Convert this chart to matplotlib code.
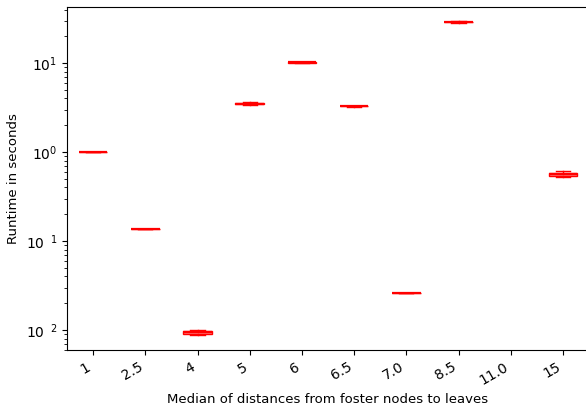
import matplotlib
matplotlib.use("Agg")
import matplotlib.pyplot as plt
from matplotlib.ticker import FuncFormatter, LogLocator
import numpy as np

categories = ["1", "2.5", "4", "5", "6", "6.5", "7.0", "8.5", "11.0", "15"]
runtimes = [
    [1.00, 1.01, 1.02, 1.01],
    [0.134, 0.136, 0.137, 0.136],
    [0.0088, 0.0092, 0.0097, 0.0099],
    [3.35, 3.45, 3.55, 3.62],
    [10.0, 10.15, 10.3, 10.2],
    [3.22, 3.28, 3.32, 3.30],
    [0.0258, 0.0260, 0.0262, 0.0261],
    [28.5, 29.0, 29.5, 29.2],
    [],
    [0.53, 0.55, 0.58, 0.61],
]

fig = plt.figure(figsize=(5.86, 4.08), dpi=100)
ax = fig.add_axes([67/586, 1-350/408, (589-67)/586, (350-7)/408])

positions = np.arange(1, len(categories) + 1)
bp = ax.boxplot(runtimes, positions=positions, widths=0.55, patch_artist=True,
                showfliers=False)
for b in bp["boxes"]:
    b.set_facecolor((1, 0, 0, 0.55))
    b.set_edgecolor("red")
    b.set_linewidth(1.0)
for k in ("whiskers", "caps"):
    for l in bp[k]:
        l.set_color("red")
        l.set_linewidth(1.0)
for l in bp["medians"]:
    l.set_color("red")
    l.set_linewidth(1.6)

ax.set_yscale("log")
ax.set_ylim(0.00596, 42.7)
ax.set_xlim(0.5, len(categories) + 0.5)
ax.set_xticks(positions)
ax.set_xticklabels(categories, rotation=30, ha="right")

def fmt(v, pos):
    e = int(round(np.log10(v)))
    if e < 0:
        return r"$\mathdefault{10^{\ \ %d}}$" % (-e)
    return r"$\mathdefault{10^{%d}}$" % e

ax.yaxis.set_major_locator(LogLocator(base=10))
ax.yaxis.set_major_formatter(FuncFormatter(fmt))

ax.set_xlabel("Median of distances from foster nodes to leaves", fontsize=9.5)
ax.set_ylabel("Runtime in seconds", fontsize=9.5)

fig.savefig("out.png", dpi=100)
